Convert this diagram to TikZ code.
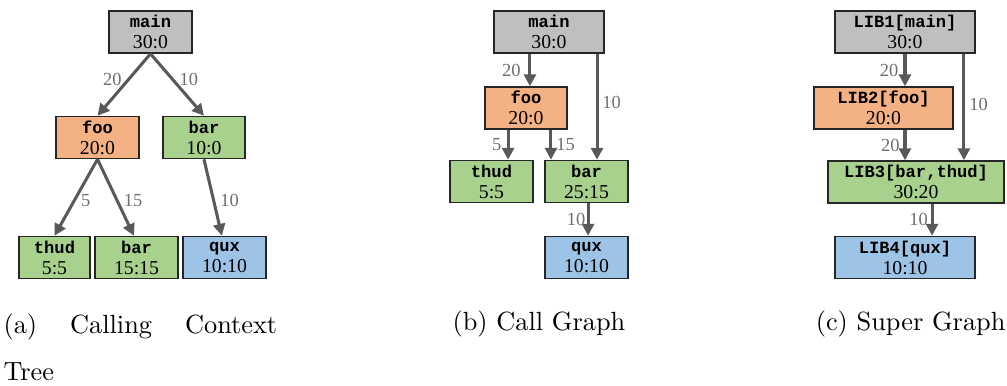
\documentclass[tikz,border=0pt]{standalone}
\usepackage{fontspec}
\newfontfamily\fnmono{Liberation Mono}
\newfontfamily\fnserif{Liberation Serif}
\usetikzlibrary{arrows.meta}
\definecolor{boxline}{HTML}{262626}
\definecolor{edgec}{HTML}{595959}
\definecolor{labc}{HTML}{6E6E6E}
\definecolor{mainc}{HTML}{BFBFBF}
\definecolor{fooc}{HTML}{F4B183}
\definecolor{barc}{HTML}{A9D18E}
\definecolor{quxc}{HTML}{9DC3E6}
\newcommand{\fname}[1]{{\fnmono\fontsize{6.5}{8}\selectfont\bfseries #1}}
\tikzset{
    fn/.style={draw=boxline, line width=0.55pt, minimum height=16pt, inner sep=0pt,
        align=center, font=\fnserif\fontsize{7.5}{8}\selectfont},
    call/.style={draw=edgec, line width=1.15pt, -{Triangle[length=4.5pt,width=4.5pt]}},
    w/.style={font=\fnserif\fontsize{7}{8}\selectfont, text=labc, inner sep=0pt},
    subcap/.style={font=\fontsize{10}{18}\selectfont, inner sep=0pt}
}
\begin{document}
\begin{tikzpicture}[x=0.38pt, y=-0.38pt]
    \useasboundingbox (0,0) rectangle (1007,385);
    % (a) calling context tree
    \node[fn, fill=mainc, minimum width=31.5pt] (amain) at (150.5,32) {\fname{main}\\30:0};
    \node[fn, fill=fooc, minimum width=31.5pt] (afoo) at (97.5,137.5) {\fname{foo}\\20:0};
    \node[fn, fill=barc, minimum width=31.2pt] (abar) at (204,137.5) {\fname{bar}\\10:0};
    \node[fn, fill=barc, minimum width=27pt] (athud) at (54.5,257.5) {\fname{thud}\\5:5};
    \node[fn, fill=barc, minimum width=31.5pt] (abarb) at (136.5,257.5) {\fname{bar}\\15:15};
    \node[fn, fill=quxc, minimum width=31.5pt] (aqux) at (224.5,257.5) {\fname{qux}\\10:10};
    \draw[call] (amain.south) -- node[w, pos=.42, left=2pt] {20} (afoo.north);
    \draw[call] (amain.south) -- node[w, pos=.42, right=2pt] {10} (abar.north);
    \draw[call] (afoo.south) -- node[w, pos=.54, right=2pt] {5} (athud.north);
    \draw[call] (afoo.south) -- node[w, pos=.54, right=2pt] {15} ([xshift=-1pt]abarb.north);
    \draw[call] (abar.south) -- node[w, pos=.54, right=2pt] {10} ([xshift=-1pt]aqux.north);
    % (b) call graph
    \node[fn, fill=mainc, minimum width=41.8pt] (bmain) at (549,32) {\fname{main}\\30:0};
    \node[fn, fill=fooc, minimum width=31.2pt] (bfoo) at (526,108) {\fname{foo}\\20:0};
    \node[fn, fill=barc, minimum width=31.5pt] (bthud) at (491.5,181.5) {\fname{thud}\\5:5};
    \node[fn, fill=barc, minimum width=31.5pt] (bbar) at (586.5,181.5) {\fname{bar}\\25:15};
    \node[fn, fill=quxc, minimum width=31.5pt] (bqux) at (586.5,257.5) {\fname{qux}\\10:10};
    \draw[call] ([xshift=1.5pt]bfoo.north |- bmain.south) -- node[w, left=3pt] {20} ([xshift=1.5pt]bfoo.north);
    \draw[call] ([xshift=4pt]bbar.north |- bmain.south) -- node[w, pos=.46, right=1.5pt] {10} ([xshift=4pt]bbar.north);
    \draw[call] ([xshift=6.3pt]bthud.north |- bfoo.south) -- node[w, left=2pt] {5} ([xshift=6.3pt]bthud.north);
    \draw[call] ([xshift=-13.5pt]bbar.north |- bfoo.south) -- node[w, right=1.5pt] {15} ([xshift=-13.5pt]bbar.north);
    \draw[call] ([xshift=0.6pt]bbar.south) -- node[w, left=0.5pt] {10} ([xshift=0.6pt]bqux.north);
    % (c) super graph
    \node[fn, fill=mainc, minimum width=53.2pt] (cmain) at (905,32) {\fname{LIB1[main]}\\30:0};
    \node[fn, fill=fooc, minimum width=52.8pt] (cfoo) at (883.5,108) {\fname{LIB2[foo]}\\20:0};
    \node[fn, fill=barc, minimum width=66.9pt] (cbar) at (916,182) {\fname{LIB3[bar,thud]}\\30:20};
    \node[fn, fill=quxc, minimum width=53.2pt] (cqux) at (905,257.5) {\fname{LIB4[qux]}\\10:10};
    \draw[call] (cmain.south) -- node[w, left=2pt] {20} (cmain.south |- cfoo.north);
    \draw[call] ([xshift=22.4pt]cmain.south) -- node[w, pos=.48, right=1.5pt] {10} ([xshift=22.4pt]cmain.south |- cbar.north);
    \draw[call] (cmain.south |- cfoo.south) -- node[w, left=1.5pt] {20} (cmain.south |- cbar.north);
    \draw[call] ([xshift=6.1pt]cbar.south) -- node[w, left=1pt] {10} ([xshift=6.1pt]cbar.south |- cqux.north);
    % captions
    \node[subcap, anchor=north west, text width=104pt, align=justify] (capa) at (3,313) {(a) Calling Context Tree};
    \node[subcap, anchor=base west] (capb) at (452,330) {(b) Call Graph};
    \node[subcap, anchor=base east] (capc) at (1006,330) {(c) Super Graph};
\end{tikzpicture}
\end{document}
